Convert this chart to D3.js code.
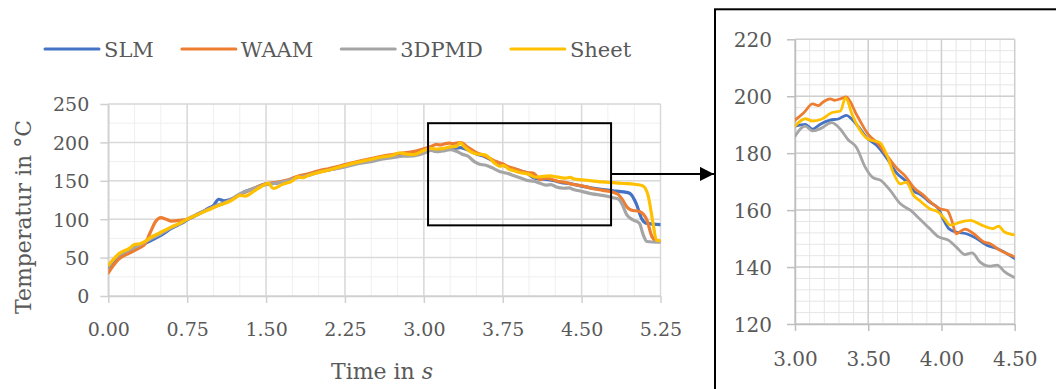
<!DOCTYPE html>
<html>
<head>
<meta charset="utf-8">
<script src="https://cdn.jsdelivr.net/npm/d3@7"></script>
<style>
  body { margin: 0; background: #fff; }
  svg { display: block; font-family: "DejaVu Serif", serif; }
</style>
</head>
<body>
<svg id="chart" width="1056" height="389"></svg>
<script>
const seriesNames = ['SLM', 'WAAM', '3DPMD', 'Sheet'];
const seriesColors = ['#4472c4', '#ed7d31', '#a5a5a5', '#ffc000'];

// [time in s, temperature in °C]
const slm = [[0,37],[0.05,45],[0.1,51],[0.2,58],[0.3,65],[0.4,72],[0.5,79],[0.6,88],[0.7,95],[0.75,99],[0.85,106],[0.95,114],[1.0,118],[1.05,126],[1.1,124],[1.2,128],[1.3,136],[1.4,141],[1.5,146],[1.6,147],[1.7,150],[1.8,155],[1.9,158],[2.0,162],[2.1,164],[2.25,169],[2.4,174],[2.5,177],[2.6,180],[2.7,182],[2.8,184],[2.9,185],[3.0,189.5],[3.07,190.1],[3.12,188.4],[3.17,190.1],[3.24,191.6],[3.3,192.1],[3.35,193.3],[3.42,190.1],[3.5,184.9],[3.56,182.6],[3.63,178],[3.69,173.3],[3.76,170],[3.82,166.3],[3.85,165.7],[3.92,162.8],[3.98,160.5],[4.01,157],[4.05,153.5],[4.1,152.3],[4.17,151.7],[4.24,150],[4.31,147.7],[4.38,146.5],[4.5,143],[4.6,140.5],[4.7,138.5],[4.8,137],[4.9,135.5],[4.96,133.5],[5.02,120],[5.07,101],[5.12,94.5],[5.25,93]];
const waam = [[0,30],[0.05,40],[0.1,48],[0.2,56],[0.3,63],[0.35,68],[0.4,83],[0.45,97],[0.5,102],[0.55,100],[0.6,97.5],[0.7,99],[0.75,100],[0.85,107],[0.95,113],[1.05,118],[1.15,124],[1.25,132],[1.35,138],[1.5,146],[1.6,148],[1.7,151],[1.8,156],[1.9,159],[2.0,163],[2.1,166],[2.25,171],[2.4,176],[2.5,179],[2.6,182],[2.7,184],[2.8,186],[2.9,188],[3.0,191.6],[3.06,194.2],[3.12,197.3],[3.16,196.7],[3.19,197.9],[3.24,199.1],[3.27,198.6],[3.31,199.1],[3.35,199.8],[3.42,193.6],[3.5,186.6],[3.56,183.7],[3.63,179],[3.69,175],[3.75,172.1],[3.81,168],[3.88,165.1],[3.94,162.2],[3.99,160.5],[4.04,159.9],[4.07,156.4],[4.1,151.7],[4.16,153.3],[4.22,151.7],[4.29,148.8],[4.33,148.3],[4.4,145.9],[4.5,143.6],[4.6,140],[4.7,137.5],[4.8,135],[4.85,132],[4.88,127],[4.93,116],[4.97,112],[5.05,110],[5.12,99],[5.17,77],[5.21,72],[5.25,71]];
const dpmd = [[0,38],[0.05,47],[0.1,53],[0.2,60],[0.3,67],[0.4,74],[0.5,81],[0.6,89],[0.7,96],[0.75,100],[0.85,107],[0.95,113],[1.05,119],[1.15,124],[1.25,133],[1.35,138],[1.5,145],[1.6,147],[1.7,150],[1.8,154],[1.9,157],[2.0,161],[2.1,164],[2.25,168],[2.4,173],[2.5,175],[2.6,178],[2.7,180],[2.8,182],[2.9,182.5],[3.0,186],[3.07,189.5],[3.12,187.8],[3.18,188.8],[3.25,190.7],[3.31,188.4],[3.36,184.9],[3.42,182],[3.48,175],[3.53,171.5],[3.59,170.3],[3.65,166.9],[3.72,162.2],[3.79,159.9],[3.85,157],[3.92,153.5],[3.98,150.6],[4.05,149.4],[4.1,147.1],[4.16,144.4],[4.21,145],[4.26,141.9],[4.33,140.3],[4.38,140.7],[4.43,138.4],[4.5,136.3],[4.6,133],[4.7,131],[4.8,128],[4.85,126],[4.88,121],[4.93,105.5],[4.99,99],[5.05,94.5],[5.085,80],[5.12,71],[5.25,70]];
const sheet = [[0,40],[0.05,48],[0.1,55],[0.2,62],[0.25,67],[0.3,68],[0.35,71],[0.4,76],[0.5,83],[0.6,90],[0.7,96],[0.75,100],[0.85,106],[0.95,112],[1.05,118],[1.15,123],[1.2,127],[1.25,131],[1.3,130],[1.4,138],[1.5,146],[1.52,147],[1.57,140],[1.65,145],[1.75,150],[1.8,155],[1.85,154],[1.9,157],[2.0,161],[2.1,164],[2.25,170],[2.4,175],[2.5,178],[2.6,181],[2.7,183],[2.77,186.5],[2.82,185],[2.9,184],[3.0,189.5],[3.07,192.1],[3.12,191.3],[3.18,191.9],[3.25,194.2],[3.31,194.8],[3.345,199.4],[3.39,193.6],[3.44,188.4],[3.5,184.9],[3.58,183.7],[3.63,179],[3.67,173.3],[3.72,169.2],[3.76,169.8],[3.81,165.1],[3.85,163.4],[3.92,160.5],[3.98,159.3],[4.02,157],[4.06,154.7],[4.13,155.8],[4.2,156.4],[4.24,155.6],[4.29,154.4],[4.35,153.5],[4.39,154.4],[4.43,152.3],[4.5,151.3],[4.6,150],[4.7,148.5],[4.8,147.5],[4.9,146.5],[5.0,145.5],[5.08,143.5],[5.13,132],[5.18,94],[5.21,73],[5.25,72]];
const seriesData = [slm, waam, dpmd, sheet];

const mainTicksX = [0, 0.75, 1.5, 2.25, 3, 3.75, 4.5, 5.25];
const mainTicksY = [0, 50, 100, 150, 200, 250];
const insetTicksX = [3, 3.5, 4, 4.5];
const insetTicksY = [120, 140, 160, 180, 200, 220];

// zoomed region marked on the main chart, and where the arrow leaves it
const zoomTime = [3.04, 4.78];
const zoomTemp = [92, 225];
const arrowTemp = 159;

const svg = d3.select('#chart');
const tickColor = '#595959';
const fmt = d3.format('.2f');

const defs = svg.append('defs');
defs.append('marker')
  .attr('id', 'arrow')
  .attr('viewBox', '0 0 10 10')
  .attr('refX', 10).attr('refY', 5)
  .attr('markerWidth', 14).attr('markerHeight', 14)
  .attr('markerUnits', 'userSpaceOnUse')
  .attr('orient', 'auto')
  .append('path')
  .attr('d', 'M0,0L10,5L0,10Z')
  .attr('fill', '#000');

const drawPanel = ({
  x, y, ticksX, ticksY, minorX, minorY, majorColor, minorColor, axisColor,
  lineWidth, clipId, fontSize, padX, padY,
}) => {
  const g = svg.append('g');
  const [x0, x1] = x.domain();
  const [y0, y1] = y.domain();

  g.append('g').selectAll('line')
    .data(d3.range(x0, x1 + 1e-9, minorX))
    .join('line')
    .attr('x1', (d) => x(d)).attr('x2', (d) => x(d))
    .attr('y1', y(y0)).attr('y2', y(y1))
    .attr('stroke', minorColor);
  g.append('g').selectAll('line')
    .data(d3.range(y0, y1 + 1e-9, minorY))
    .join('line')
    .attr('y1', (d) => y(d)).attr('y2', (d) => y(d))
    .attr('x1', x(x0)).attr('x2', x(x1))
    .attr('stroke', minorColor);
  g.append('g').selectAll('line')
    .data(ticksX)
    .join('line')
    .attr('x1', (d) => x(d)).attr('x2', (d) => x(d))
    .attr('y1', y(y0)).attr('y2', y(y1))
    .attr('stroke', majorColor).attr('stroke-width', 1.5);
  g.append('g').selectAll('line')
    .data(ticksY)
    .join('line')
    .attr('y1', (d) => y(d)).attr('y2', (d) => y(d))
    .attr('x1', x(x0)).attr('x2', x(x1))
    .attr('stroke', majorColor).attr('stroke-width', 1.5);

  const xAxis = g.append('g')
    .attr('transform', `translate(0,${y(y0)})`)
    .call(d3.axisBottom(x).tickValues(ticksX).tickFormat(fmt).tickSize(7).tickSizeOuter(0).tickPadding(padX));
  const yAxis = g.append('g')
    .attr('transform', `translate(${x(x0)},0)`)
    .call(d3.axisLeft(y).tickValues(ticksY).tickFormat(d3.format('d')).tickSize(8).tickSizeOuter(0).tickPadding(padY));
  [xAxis, yAxis].forEach((a) => {
    a.select('.domain').attr('stroke', axisColor).attr('stroke-width', 1.5);
    a.selectAll('.tick line').attr('stroke', axisColor).attr('stroke-width', 1.5);
    a.selectAll('text')
      .attr('fill', tickColor)
      .style('font-family', '"DejaVu Serif", serif')
      .style('font-size', `${fontSize}px`);
  });
  yAxis.selectAll('text').attr('dy', '0.36em');

  defs.append('clipPath').attr('id', clipId)
    .append('rect')
    .attr('x', x(x0)).attr('y', y(y1))
    .attr('width', x(x1) - x(x0)).attr('height', y(y0) - y(y1));

  const line = d3.line()
    .x((d) => x(d[0]))
    .y((d) => y(d[1]))
    .curve(d3.curveMonotoneX);

  g.append('g')
    .attr('clip-path', `url(#${clipId})`)
    .selectAll('path')
    .data(seriesData.map((s) => s.filter((d) => d[0] >= x0 - 1e-9 && d[0] <= x1 + 1e-9)))
    .join('path')
    .attr('d', line)
    .attr('fill', 'none')
    .attr('stroke', (d, i) => seriesColors[i])
    .attr('stroke-width', lineWidth)
    .attr('stroke-linejoin', 'round')
    .attr('stroke-linecap', 'round');
  return g;
};

// main chart
const xMain = d3.scaleLinear().domain([0, 5.25]).range([108.3, 660.5]);
const yMain = d3.scaleLinear().domain([0, 250]).range([296, 104]);
drawPanel({
  x: xMain, y: yMain, ticksX: mainTicksX, ticksY: mainTicksY, minorX: 0.25, minorY: 25,
  majorColor: '#d9d9d9', minorColor: '#efefef', axisColor: '#d0d0d0',
  lineWidth: 3.2, clipId: 'clipMain', fontSize: 19, padX: 20, padY: 11,
});

// inset chart
const xInset = d3.scaleLinear().domain([3, 4.5]).range([795, 1014.7]);
const yInset = d3.scaleLinear().domain([120, 220]).range([324, 39.3]);

svg.append('rect')
  .attr('x', 715).attr('y', 9.3)
  .attr('width', 400).attr('height', 400)
  .attr('fill', '#fff')
  .attr('stroke', '#000').attr('stroke-width', 2);

drawPanel({
  x: xInset, y: yInset, ticksX: insetTicksX, ticksY: insetTicksY, minorX: 0.1, minorY: 4,
  majorColor: '#cfcfcf', minorColor: '#e6e6e6', axisColor: '#bfbfbf',
  lineWidth: 2.8, clipId: 'clipInset', fontSize: 20, padX: 21, padY: 15,
});

// zoom box and arrow
svg.append('rect')
  .attr('x', xMain(zoomTime[0])).attr('y', yMain(zoomTemp[1]))
  .attr('width', xMain(zoomTime[1]) - xMain(zoomTime[0]))
  .attr('height', yMain(zoomTemp[0]) - yMain(zoomTemp[1]))
  .attr('fill', 'none').attr('stroke', '#000').attr('stroke-width', 2);

svg.append('line')
  .attr('x1', xMain(zoomTime[1])).attr('x2', 714)
  .attr('y1', yMain(arrowTemp)).attr('y2', yMain(arrowTemp))
  .attr('stroke', '#000').attr('stroke-width', 2)
  .attr('marker-end', 'url(#arrow)');

// axis titles
svg.append('text')
  .attr('transform', `translate(31,${217}) rotate(-90)`)
  .attr('text-anchor', 'middle')
  .attr('fill', '#595959')
  .style('font-size', '22px')
  .text('Temperatur in °C');

const xTitle = svg.append('text')
  .attr('x', 382).attr('y', 379)
  .attr('text-anchor', 'middle')
  .attr('fill', '#595959')
  .style('font-size', '22px');
xTitle.append('tspan').text('Time in ');
xTitle.append('tspan').style('font-style', 'italic').text('s');

// legend
const legend = svg.append('g').attr('transform', 'translate(45,49)');
let lx = 0;
seriesNames.forEach((name, i) => {
  const item = legend.append('g').attr('transform', `translate(${lx},0)`);
  item.append('line')
    .attr('x1', 0).attr('x2', 54)
    .attr('stroke', seriesColors[i]).attr('stroke-width', 3)
    .attr('stroke-linecap', 'round');
  const label = item.append('text')
    .attr('x', 59).attr('y', 7.5)
    .attr('fill', '#595959')
    .style('font-size', '21px')
    .text(name);
  lx += 59 + label.node().getComputedTextLength() + 28;
});
</script>
</body>
</html>
